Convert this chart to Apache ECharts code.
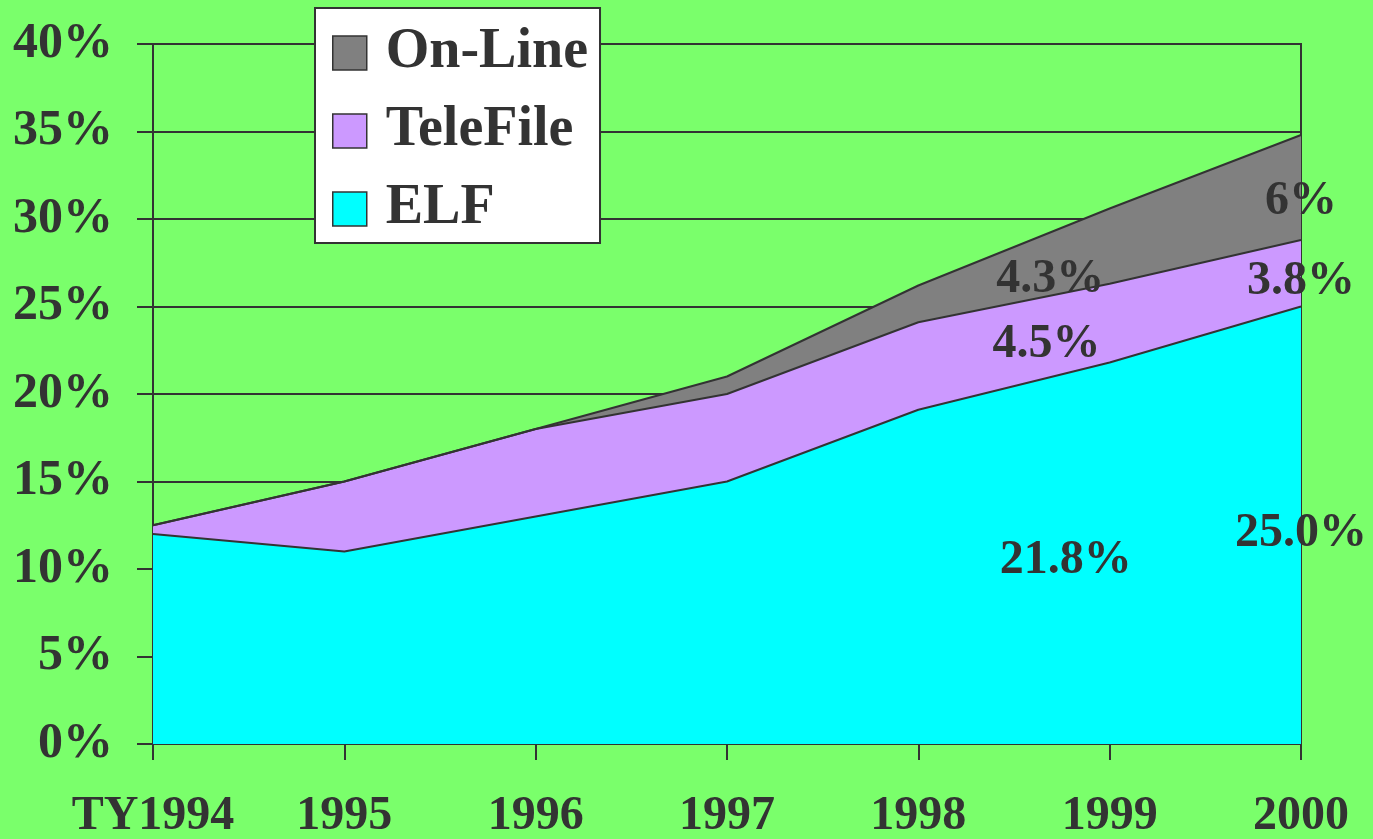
<!DOCTYPE html>
<html><head><meta charset="utf-8">
<script src="https://cdn.jsdelivr.net/npm/echarts@6/dist/echarts.min.js"></script>
<style>html,body{margin:0;padding:0;background:#7aff6b}#c{width:1373px;height:839px}</style>
</head><body><div id="c"></div><script>
var years = ['TY1994','1995','1996','1997','1998','1999','2000'];
var elf = [12, 11, 13, 15, 19.1, 21.8, 25];
var telefile = [0.5, 4, 5, 5, 5, 4.5, 3.8];
var online = [0, 0, 0, 1, 2.1, 4.3, 6];
var yTicks = [0, 5, 10, 15, 20, 25, 30, 35, 40];
var annotText = ['6%', '4.3%', '3.8%', '4.5%', '21.8%', '25.0%'];
var annotX = [6, 4.69, 6, 4.67, 4.77, 6];
var annotY = [31.0, 26.55, 26.4, 22.85, 10.5, 12.0];

var FONT = "'Liberation Serif','Times New Roman',serif";
var INK = '#333333';
function areaSeries(name, arr, fill){
  return {
    name: name, type: 'line', stack: 'total', data: arr,
    xAxisIndex: 0, yAxisIndex: 0,
    symbol: 'none', color: fill,
    itemStyle: {color: fill},
    lineStyle: {color: INK, width: 2},
    areaStyle: {color: fill, opacity: 1},
    emphasis: {disabled: true}, animation: false
  };
}
var chart = echarts.init(document.getElementById('c'));
chart.setOption({
  backgroundColor: '#7aff6b',
  animation: false,
  grid: {left: 153, right: 72, top: 44, bottom: 95, containLabel: false, outerBoundsMode: 'none',
    show: true, borderColor: INK, borderWidth: 2, backgroundColor: 'transparent'},
  legend: {
    orient: 'vertical', left: 315, top: 8,
    data: ['On-Line', 'TeleFile', 'ELF'],
    icon: 'rect', itemWidth: 34, itemHeight: 34, itemGap: 22,
    backgroundColor: '#ffffff', borderColor: INK, borderWidth: 2,
    padding: [17, 12, 6, 17],
    itemStyle: {borderColor: INK, borderWidth: 1.5},
    textStyle: {fontSize: 56, fontWeight: 'bold', fontFamily: FONT, color: INK, lineHeight: 56, padding: [0, 0, 0, 14]},
    selectedMode: false
  },
  xAxis: [{
    type: 'category', data: years, boundaryGap: false,
    axisLine: {show: true, lineStyle: {color: INK, width: 2}},
    axisTick: {show: true, length: 16, alignWithLabel: true, lineStyle: {color: INK, width: 2}},
    splitLine: {show: false},
    axisLabel: {margin: 49, interval: 0, fontSize: 48, fontWeight: 'bold', fontFamily: FONT, color: INK}
  }, {
    type: 'value', min: 0, max: years.length - 1, show: false
  }],
  yAxis: {
    type: 'value', min: yTicks[0], max: yTicks[yTicks.length - 1], interval: 5,
    axisLine: {show: true, lineStyle: {color: INK, width: 2}},
    axisTick: {show: true, length: 16, lineStyle: {color: INK, width: 2}},
    splitLine: {show: true, lineStyle: {color: INK, width: 2}},
    axisLabel: {margin: 40, fontSize: 50, fontWeight: 'bold', fontFamily: FONT, color: INK,
      formatter: '{value}%', padding: [8, 0, 0, 0]}
  },
  series: [
    areaSeries('ELF', elf, '#00ffff'),
    areaSeries('TeleFile', telefile, '#cc99ff'),
    areaSeries('On-Line', online, '#808080'),
    {
      type: 'scatter', xAxisIndex: 1, yAxisIndex: 0, symbolSize: 0,
      itemStyle: {color: INK},
      z: 10, silent: true,
      data: annotText.map(function(t, i){ return {name: t, value: [annotX[i], annotY[i]]}; }),
      label: {show: true, position: 'inside', formatter: '{b}', fontSize: 48, fontWeight: 'bold', fontFamily: FONT, color: INK, opacity: 1}
    }
  ]
});
</script></body></html>
